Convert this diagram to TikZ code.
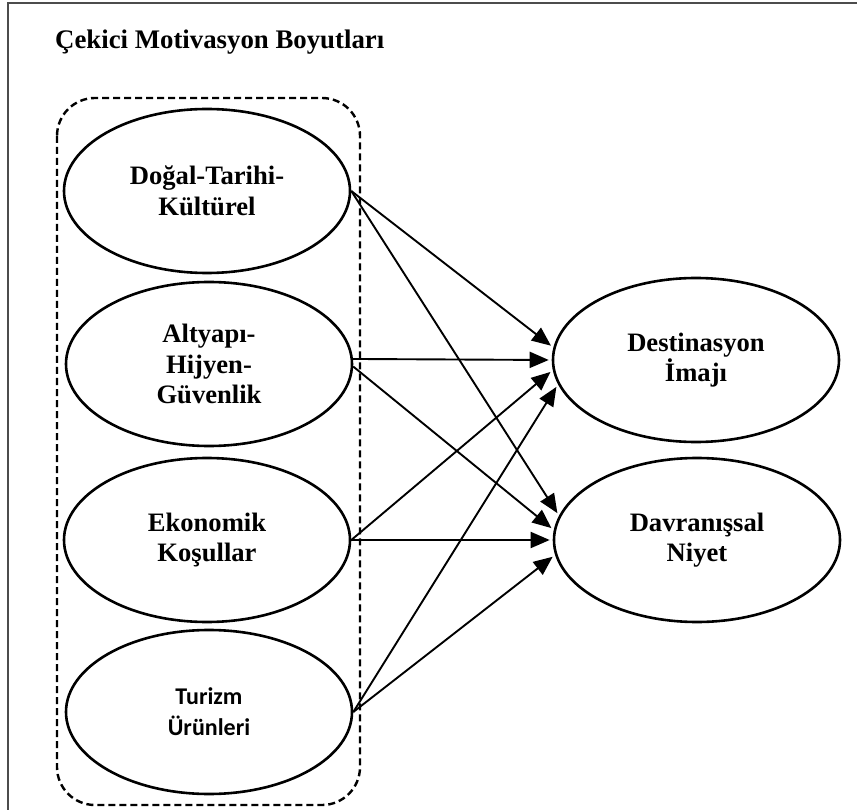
\documentclass[tikz,border=0pt]{standalone}
\usepackage{fontspec}
\setmainfont{Liberation Serif}
\newfontfamily\calfont{Carlito}
\usetikzlibrary{arrows.meta,shapes.geometric}
\begin{document}
\begin{tikzpicture}[x=1pt,y=-1pt,
  factor/.style={ellipse,draw,line width=2.6pt,minimum width=286pt,minimum height=164pt,
    inner sep=0pt,align=center,font=\bfseries\fontsize{26.6}{30.5}\selectfont},
  link/.style={line width=1.9pt,-{Triangle[length=19pt,width=16pt]},shorten >=3pt}
]
\useasboundingbox (0,0) rectangle (857,810);
\fill[white] (0,0) rectangle (857,810);
% open frame (top and left edges)
\draw[gray!60!black,line width=2pt] (8,810) -- (8,3) -- (857,3);
\node[anchor=base west,inner sep=0pt,font=\bfseries\fontsize{26.8}{30}\selectfont] (title) at (55,49) {Çekici Motivasyon Boyutları};
% dashed group around the pull factors
\draw[line width=2.4pt,dash pattern=on 7pt off 4pt,rounded corners=38pt] (57,98) rectangle (360,805);
% pull factors
\node[factor] (dtk) at (207,191) {Doğal-Tarihi-\\Kültürel};
\node[factor] (ahg) at (209,364) {Altyapı-\\Hijyen-\\Güvenlik};
\node[factor] (eko) at (207,540) {Ekonomik\\Koşullar};
\node[factor,font=\calfont\bfseries\fontsize{24}{31}\selectfont] (tur) at (209,712) {Turizm\\Ürünleri};
% outcomes
\node[factor] (dest) at (696,360) {Destinasyon\\İmajı};
\node[factor] (niyet) at (697,540) {Davranışsal\\Niyet};
% paths
\draw[link] (dtk.east) -- (dest.175);
\draw[link] (dtk.east) -- (niyet.170);
\draw[link] (ahg.2) -- (dest.180);
\draw[link] (ahg.-1) -- (niyet.176);
\draw[link] (eko.east) -- (dest.184.6);
\draw[link] (eko.east) -- (niyet.180);
\draw[link] (tur.east) -- (dest.190.8);
\draw[link] (tur.east) -- (niyet.186.3);
\end{tikzpicture}
\end{document}
